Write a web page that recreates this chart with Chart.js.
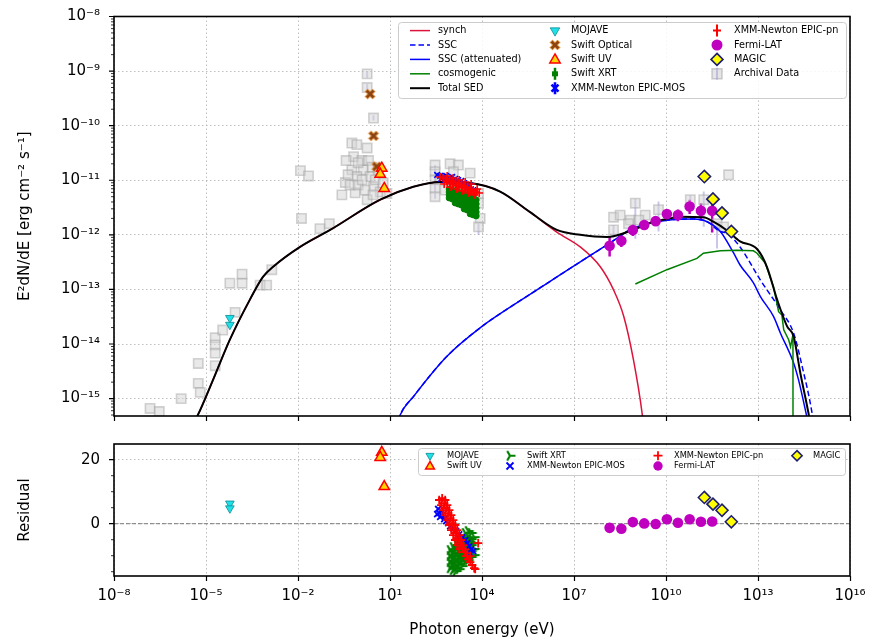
<!DOCTYPE html>
<html lang="en">
<head>
<meta charset="UTF-8">
<title>Broadband SED with residuals</title>
<script src="https://cdn.jsdelivr.net/npm/chart.js"></script>
<style>
  body { margin: 0; background: #fff; }
  #wrap { position: relative; width: 873px; height: 644px; }
  canvas { position: absolute; left: 0; }
</style>
</head>
<body>
<div id="wrap">
  <canvas id="sed" width="873" height="432" style="top:0"></canvas>
  <canvas id="res" width="873" height="212" style="top:432px"></canvas>
</div>
<script>
// ---------- model curves (photon energy in eV, E^2 dN/dE in erg cm^-2 s^-1) ----------
const synchE = [3.55e-6, 6.5e-6, 2.0e-5, 6.0e-5, 2.7e-4, 7.2e-4, 1.55e-3, 1.17e-2, 0.112, 4.8, 57.5, 436, 4070, 3.9e4, 3.7e5, 2.75e6, 1.6e7, 7.2e7, 1.95e8, 4.2e8, 8.7e8, 1.66e9, 2.0e9];
const synchF = [3.1e-16, 6.2e-16, 2.75e-15, 1.2e-14, 6.5e-14, 1.7e-13, 2.6e-13, 6.0e-13, 1.23e-12, 4.4e-12, 7.6e-12, 9.3e-12, 8.9e-12, 6.2e-12, 2.6e-12, 1.12e-12, 6.0e-13, 2.6e-13, 9.8e-14, 3.2e-14, 5.1e-15, 5.4e-16, 2.0e-16];

const sscE = [15.8, 21.4, 59, 708, 1.0e4, 1.07e5, 1.32e6, 1.6e7, 1.5e8, 8.5e8, 1.07e10, 7.8e10, 2.2e11, 5.9e11, 9.8e11, 2.6e12, 1.2e13, 5.4e13, 1.45e14, 2.75e14, 5.8e14, 6.6e14];
const sscF = [2.8e-16, 5.0e-16, 1.1e-15, 5.9e-15, 2.1e-14, 5.2e-14, 1.29e-13, 3.2e-13, 7.1e-13, 1.32e-12, 1.86e-12, 1.95e-12, 1.74e-12, 1.15e-12, 1.07e-12, 6.0e-13, 1.48e-13, 4.2e-14, 1.58e-14, 3.9e-15, 5.4e-16, 3.2e-16];

const sscAttE = [15.8, 21.4, 59, 708, 1.0e4, 1.07e5, 1.32e6, 1.6e7, 1.5e8, 8.5e8, 1.07e10, 7.8e10, 2.2e11, 5.9e11, 1.58e12, 2.6e12, 7.1e12, 1.2e13, 3.2e13, 5.4e13, 1.45e14, 2.1e14, 3.8e14, 4.5e14];
const sscAttF = [2.8e-16, 5.0e-16, 1.1e-15, 5.9e-15, 2.1e-14, 5.2e-14, 1.29e-13, 3.2e-13, 7.1e-13, 1.32e-12, 1.86e-12, 1.95e-12, 1.74e-12, 1.15e-12, 4.7e-13, 2.8e-13, 1.32e-13, 7.4e-14, 3.2e-14, 1.58e-14, 4.5e-15, 2.2e-15, 5.0e-16, 3.2e-16];

const cosmoE = [1.0e9, 1.07e10, 1.02e11, 1.66e11, 5.9e11, 2.1e12, 7.1e12, 9.3e12, 1.74e13, 3.2e13, 4.7e13, 6.0e13, 6.9e13, 1.0e14, 1.15e14, 1.38e14, 1.39e14];
const cosmoF = [1.26e-13, 2.3e-13, 3.7e-13, 4.6e-13, 5.1e-13, 5.2e-13, 5.1e-13, 4.6e-13, 3.0e-13, 1.12e-13, 3.9e-14, 3.4e-14, 1.82e-14, 1.2e-14, 8.9e-15, 1.48e-14, 1e-17];

const totalE = [3.55e-6, 6.5e-6, 2.0e-5, 6.0e-5, 2.7e-4, 7.2e-4, 1.55e-3, 1.17e-2, 0.112, 4.8, 57.5, 436, 4070, 3.9e4, 3.7e5, 2.75e6, 1.6e7, 1.17e8, 8.5e8, 2.4e9, 1.07e10, 2.95e10, 1.66e11, 3.5e11, 9.8e11, 2.6e12, 9.3e12, 1.95e13, 4.2e13, 8.9e13, 1.45e14, 2.4e14, 4.4e14, 5.2e14];
const totalF = [3.1e-16, 6.2e-16, 2.75e-15, 1.2e-14, 6.5e-14, 1.7e-13, 2.6e-13, 6.0e-13, 1.23e-12, 4.4e-12, 7.6e-12, 9.3e-12, 8.9e-12, 6.2e-12, 2.6e-12, 1.23e-12, 1.0e-12, 9.1e-13, 1.23e-12, 1.58e-12, 1.95e-12, 2.14e-12, 2.09e-12, 1.74e-12, 1.2e-12, 7.6e-13, 5.5e-13, 2.6e-13, 6.5e-14, 2.1e-14, 1.38e-14, 2.95e-15, 5.5e-16, 3.2e-16];

// ---------- measurements ----------
const mojaveE = [6.0e-5, 6.0e-5];
const mojaveF = [3.0e-14, 2.25e-14];
const mojaveRes = [6.3, 4.8];

const optE = [2.24, 2.9, 3.7];
const optF = [3.8e-10, 6.5e-11, 1.78e-11];

const uvE = [5.4, 4.8, 6.5];
const uvF = [1.66e-11, 1.29e-11, 7.1e-12];
const uvRes = [22.3, 20.7, 11.6];

const xrtE = [850, 850, 850, 850, 1065, 1065, 1065, 1065, 1334, 1334, 1334, 1334, 1334, 1672, 1672, 1672, 1672, 1672,
  2094, 2094, 2094, 2094, 2094, 2624, 2624, 2624, 2624, 2624, 2624, 3289, 3289, 3289, 3289, 3289, 3289,
  4113, 4113, 4113, 4113, 4113, 4113, 4113, 5152, 5152, 5152, 5152, 5152, 5152, 5152, 6457, 6457, 6457, 6457, 6457];
const xrtF = [6.9e-12, 6.1e-12, 5.4e-12, 4.74e-12, 6.6e-12, 5.85e-12, 5.15e-12, 4.55e-12, 6.4e-12, 5.6e-12, 4.95e-12, 4.36e-12, 3.84e-12,
  6.1e-12, 5.4e-12, 4.74e-12, 4.18e-12, 3.68e-12, 5.85e-12, 5.15e-12, 4.55e-12, 4.0e-12, 3.53e-12,
  5.6e-12, 4.95e-12, 4.36e-12, 3.84e-12, 3.38e-12, 2.98e-12, 5.4e-12, 4.74e-12, 4.18e-12, 3.68e-12, 3.24e-12, 2.86e-12,
  5.15e-12, 4.55e-12, 4.0e-12, 3.53e-12, 3.11e-12, 2.74e-12, 2.42e-12, 4.95e-12, 4.36e-12, 3.84e-12, 3.38e-12, 2.98e-12, 2.63e-12, 2.32e-12,
  4.36e-12, 3.68e-12, 3.11e-12, 2.63e-12, 2.22e-12];
const xrtResE = [917, 917, 917, 917, 1148, 1148, 1148, 1148, 1148, 1439, 1439, 1439, 1439, 1439, 1439,
  1803, 1803, 1803, 1803, 1803, 1803, 2259, 2259, 2259, 2259, 2259, 2259, 2831, 2831, 2831, 2831, 2831, 2831,
  3548, 3548, 3548, 3548, 3548, 3548, 4446, 4446, 4446, 4446, 4446, 5570, 5570, 5570, 5570,
  1036, 1036, 1036, 1296, 1296, 1296, 1296, 1620, 1620, 1620, 1620, 2030, 2030, 2030, 2030, 2540, 2540, 2540, 3180, 3180, 3180, 3980, 3980, 4980, 4980];
const xrtRes = [-8.25, -10.1, -12.0, -13.9, -7.3, -9.2, -11.1, -12.9, -14.5, -6.1, -7.9, -9.8, -11.7, -13.6, -14.8,
  -5.1, -7.0, -8.9, -10.75, -12.6, -14.2, -4.2, -6.1, -7.9, -9.8, -11.7, -13.25, -2.9, -4.8, -6.7, -8.6, -10.4, -12.0,
  -2.3, -4.2, -6.1, -7.9, -9.8, -11.4, -2.9, -4.8, -6.7, -8.6, -10.4, -4.2, -6.1, -7.9, -9.8,
  -9.2, -11.1, -13.0, -8.2, -10.1, -12.0, -13.9, -7.0, -8.9, -10.8, -12.7, -6.0, -7.9, -9.8, -11.7, -5.5, -8.3, -10.8, -5.5, -8.3, -10.9, -5.6, -8.4, -6.0, -8.0];

const mosE = [345, 433, 542, 679, 850, 1065, 1334, 1672, 2094, 2624, 3289, 4113, 5152, 466, 630, 916, 1439, 2259, 3540];
const mosF = [1.25e-11, 1.2e-11, 1.15e-11, 1.2e-11, 1.1e-11, 1.15e-11, 1.06e-11, 1.01e-11, 9.7e-12, 8.9e-12, 8.2e-12, 7.9e-12, 6.6e-12, 1.06e-11, 1.01e-11, 9.7e-12, 9.3e-12, 8.55e-12, 7.2e-12];
const mosResE = [372, 402, 433, 502, 584, 679, 789, 917, 1148, 1439, 1803, 2259, 2831, 3289, 3819, 4446, 5164, 4121, 467, 345];
const mosRes = [4.6, 3.3, 2.1, 2.7, 1.4, 0.8, 0.2, -0.75, -1.4, -2.3, -3.3, -4.3, -5.1, -6.1, -7.1, -8.0, -8.6, -9.25, 3.9, 3.0];

const pnE = [433, 542, 679, 850, 1065, 1334, 1672, 2094, 2624, 3289, 4113, 5152, 6457, 8091, 731, 916, 1148, 1439, 1803, 2259, 2825, 3540, 4436, 5559,
  584, 916, 1439, 2259, 3540, 5559, 731, 1148, 1803, 2825, 4436, 6966];
const pnF = [1.15e-11, 1.1e-11, 1.06e-11, 1.01e-11, 9.7e-12, 9.3e-12, 8.9e-12, 8.55e-12, 7.9e-12, 7.5e-12, 6.9e-12, 6.6e-12, 6.1e-12, 5.85e-12, 9.3e-12, 8.55e-12, 8.2e-12, 7.9e-12, 7.5e-12, 7.2e-12, 6.9e-12, 6.4e-12, 6.4e-12, 5.85e-12,
  8.55e-12, 7.5e-12, 6.9e-12, 6.4e-12, 5.85e-12, 5.4e-12, 1.2e-11, 1.1e-11, 1.01e-11, 9.3e-12, 8.55e-12, 6.9e-12];
const pnResE = [502, 584, 679, 789, 917, 1066, 1239, 1439, 1672, 1944, 2259, 2624, 3054, 3548, 4121, 4786, 5570,
  402, 467, 542, 630, 731, 851, 988, 1148, 1336, 1552, 1803,
  630, 731, 851, 988, 1148, 1336, 1552, 1803, 2094, 2437, 2831, 3289,
  7516, 5998, 4121];
const pnRes = [8.0, 6.4, 4.9, 3.3, 1.75, 0.2, -1.4, -2.9, -4.5, -6.1, -7.6, -8.9, -10.1, -11.1, -12.0, -12.9, -13.9,
  7.4, 5.8, 4.25, 2.7, 1.1, -0.4, -2.0, -3.6, -5.1, -6.7, -7.9,
  7.4, 5.8, 4.25, 2.7, 1.1, -0.4, -2.0, -3.6, -5.1, -6.7, -8.0, -9.25,
  -6.1, -14.2, -10.1];

const fermiE = [1.45e8, 3.5e8, 8.3e8, 1.95e9, 4.6e9, 1.07e10, 2.45e10, 5.9e10, 1.38e11, 3.2e11];
const fermiF = [6.3e-13, 7.8e-13, 1.23e-12, 1.51e-12, 1.78e-12, 2.4e-12, 2.3e-12, 3.3e-12, 2.75e-12, 2.75e-12];
const fermiLo = [4.0e-13, 6.0e-13, 9.5e-13, 1.23e-12, 1.45e-12, 1.86e-12, 1.78e-12, 2.4e-12, 1.86e-12, 1.1e-12];
const fermiHi = [9.1e-13, 1.05e-12, 1.58e-12, 1.86e-12, 2.2e-12, 2.95e-12, 2.9e-12, 4.4e-12, 3.8e-12, 4.8e-12];
const fermiRes = [-1.3, -1.6, 0.5, 0.1, -0.1, 1.4, 0.3, 1.4, 0.6, 0.7];

const magicE = [1.78e11, 3.4e11, 6.7e11, 1.35e12];
const magicF = [1.17e-11, 4.5e-12, 2.5e-12, 1.15e-12];
const magicRes = [8.2, 6.1, 4.2, 0.6];

const archE = [1.5e-7, 3.0e-7, 1.55e-6, 5.6e-6, 5.6e-6, 6.5e-6, 2.0e-5, 2.0e-5, 2.0e-5, 2.0e-5, 3.5e-5, 8.9e-5, 6.0e-5, 1.5e-4, 1.5e-4, 5.8e-4, 9.5e-4, 1.4e-3,
  1.2e-2, 2.2e-2, 1.3e-2, 5.2e-2, 0.105, 0.27, 0.35, 0.73, 1.8, 0.57, 0.83, 1.8, 0.65, 1.2, 0.57, 1.35, 2.0, 0.83, 2.24, 2.9, 4.8, 7.9, 1.8, 1.8, 2.9,
  0.43, 0.5, 0.91, 1.23, 1.55, 2.6, 3.3, 4.1, 6.0, 0.91, 0.37, 2.8,
  295, 295, 295, 295, 295, 910, 1700, 1170, 4100, 7700, 7700, 8700, 7700, 435, 630,
  1.95e8, 1.95e8, 6.9e8, 1.0e9, 2.1e9, 5.7e9, 6.2e10, 1.7e11, 1.1e12, 4.6e11, 7.6e11, 6.0e8, 1.3e9, 3.2e8];
const archF = [6.6e-16, 5.8e-16, 1.0e-15, 4.4e-15, 1.9e-15, 1.3e-15, 1.3e-14, 9.6e-15, 6.8e-15, 4.0e-15, 1.8e-14, 3.8e-14, 1.3e-13, 1.9e-13, 1.3e-13, 1.2e-13, 1.2e-13, 2.3e-13,
  1.5e-11, 1.2e-11, 2.0e-12, 1.3e-12, 1.6e-12, 5.4e-12, 9.1e-12, 5.9e-12, 4.4e-12, 4.8e-11, 4.5e-11, 3.9e-11, 2.7e-11, 2.3e-11, 1.55e-11, 1.55e-11, 2.3e-11, 1.17e-11, 1.17e-11, 7.6e-12, 6.1e-12, 5.7e-12, 8.9e-10, 5.0e-10, 1.38e-10,
  1.26e-11, 8.2e-12, 8.2e-12, 1.02e-11, 6.6e-12, 1.74e-11, 1.02e-11, 1.55e-11, 8.9e-12, 2.1e-11, 2.3e-11, 5.4e-12,
  1.9e-11, 1.44e-11, 1.02e-11, 7.1e-12, 5.0e-12, 2.0e-11, 1.9e-11, 1.44e-11, 1.35e-11, 5.7e-12, 3.8e-12, 2.0e-12, 1.4e-12, 1.1e-11, 6.6e-12,
  2.1e-12, 1.23e-12, 1.86e-12, 3.8e-12, 2.3e-12, 2.9e-12, 4.4e-12, 4.4e-12, 1.26e-11, 1.6e-12, 1.4e-12, 1.6e-12, 1.86e-12, 2.3e-12];
const archBarE = [1.8, 1.8, 2.9, 295, 7700, 1.95e8, 1.0e9, 5.7e9, 6.2e10, 1.7e11, 4.6e11];
const archBarLo = [7.5e-10, 4.3e-10, 1.25e-10, 4.6e-12, 1.0e-12, 8.7e-13, 8.5e-13, 1.15e-12, 2.9e-12, 1.4e-12, 5.6e-13];
const archBarHi = [1.0e-9, 5.8e-10, 1.55e-10, 1.9e-11, 1.6e-12, 1.5e-12, 4.6e-12, 4.1e-12, 5.3e-12, 6.2e-12, 1.75e-12];

// ---------- axes ----------
const xTicks = [1e-8, 1e-5, 1e-2, 1e1, 1e4, 1e7, 1e10, 1e13, 1e16];
const yMinTop = 4.8e-16, yMaxTop = 1e-8;
const yMinRes = -16.34, yMaxRes = 24.9;
const resTicks = [-15, -10, -5, 0, 5, 10, 15, 20];
const resLabelled = [0, 20];

const GRID = 'rgba(170,170,170,0.75)';
const SYN = '#dc143c';
const FONT = 'DejaVu Sans';
Chart.defaults.font.family = FONT;
Chart.defaults.color = '#000';

const SUP = { '-': '⁻', '0': '⁰', '1': '¹', '2': '²', '3': '³', '4': '⁴', '5': '⁵', '6': '⁶', '7': '⁷', '8': '⁸', '9': '⁹' };
function pow10Label(v) {
  const e = Math.round(Math.log10(v));
  return '10' + String(e).split('').map(c => SUP[c]).join('');
}
function isDecade(v) {
  const l = Math.log10(v);
  return Math.abs(l - Math.round(l)) < 1e-6;
}
const yTicksTop = [];
for (let e = -16; e <= -8; e++) {
  for (let m = 1; m < 10; m++) {
    const v = m * Math.pow(10, e);
    if (v >= yMinTop && v <= yMaxTop * 1.0001) yTicksTop.push(v);
  }
}

function pts(xs, ys) { return xs.map((x, i) => ({ x: x, y: ys[i] })); }

// ---------- marker shapes ----------
function tri(ctx, x, y, r, down) {
  const s = down ? -1 : 1;
  ctx.beginPath();
  ctx.moveTo(x, y - s * r);
  ctx.lineTo(x + r * 0.866, y + s * r * 0.5);
  ctx.lineTo(x - r * 0.866, y + s * r * 0.5);
  ctx.closePath();
}
function thickX(ctx, cx, cy, r) {
  const a = 0.32 * r;
  const p = [[a, a], [a, r], [-a, r], [-a, a], [-r, a], [-r, -a], [-a, -a], [-a, -r], [a, -r], [a, -a], [r, -a], [r, a]];
  const c = Math.SQRT1_2;
  ctx.beginPath();
  p.forEach(([px, py], i) => {
    const rx = cx + (px - py) * c, ry = cy + (px + py) * c;
    if (i) ctx.lineTo(rx, ry); else ctx.moveTo(rx, ry);
  });
  ctx.closePath();
}
function markerCanvas(size, draw) {
  const c = document.createElement('canvas');
  c.width = size; c.height = size;
  draw(c.getContext('2d'), size / 2);
  return c;
}
const optMarker = markerCanvas(14, (g, h) => {
  thickX(g, h, h, 5.2);
  g.fillStyle = '#8b4513'; g.fill();
  g.strokeStyle = '#e0801e'; g.lineWidth = 1; g.stroke();
});
const triRight = markerCanvas(14, (g, h) => {
  g.strokeStyle = 'green'; g.lineWidth = 2.2;
  g.beginPath();
  g.moveTo(h, h); g.lineTo(h + 5.5, h);
  g.moveTo(h, h); g.lineTo(h - 2.8, h - 4.8);
  g.moveTo(h, h); g.lineTo(h - 2.8, h + 4.8);
  g.stroke();
});

function icon(ctx, kind, x, y, big) {
  ctx.save();
  const k = big ? 1 : 0.85;
  switch (kind) {
    case 'mojave':
      tri(ctx, x, y, 5.5 * k, true);
      ctx.fillStyle = '#1fe0e6'; ctx.fill();
      ctx.strokeStyle = '#0b8a96'; ctx.lineWidth = 0.8; ctx.stroke();
      break;
    case 'uv':
      tri(ctx, x, y + 0.5, 6 * k, false);
      ctx.fillStyle = '#ffd400'; ctx.fill();
      ctx.strokeStyle = 'red'; ctx.lineWidth = 1.5; ctx.stroke();
      break;
    case 'opt':
      ctx.drawImage(optMarker, x - 7, y - 7);
      break;
    case 'xrtTop':
      ctx.strokeStyle = 'green'; ctx.lineWidth = 2.5;
      ctx.beginPath(); ctx.moveTo(x, y - 6); ctx.lineTo(x, y + 6); ctx.stroke();
      ctx.fillStyle = 'green'; ctx.fillRect(x - 3, y - 2.5, 6, 5);
      break;
    case 'mosTop':
      ctx.strokeStyle = 'blue'; ctx.lineWidth = 2.6;
      ctx.beginPath();
      ctx.moveTo(x - 3.5, y - 3.5); ctx.lineTo(x + 3.5, y + 3.5);
      ctx.moveTo(x - 3.5, y + 3.5); ctx.lineTo(x + 3.5, y - 3.5);
      ctx.moveTo(x, y - 6); ctx.lineTo(x, y + 6);
      ctx.stroke();
      break;
    case 'pnTop':
      ctx.strokeStyle = 'red'; ctx.lineWidth = 2;
      ctx.beginPath();
      ctx.moveTo(x, y - 6); ctx.lineTo(x, y + 6);
      ctx.moveTo(x - 4, y); ctx.lineTo(x + 4, y);
      ctx.stroke();
      break;
    case 'fermi':
      ctx.fillStyle = '#bf00bf';
      ctx.beginPath(); ctx.arc(x, y, 5.5 * k, 0, Math.PI * 2); ctx.fill();
      break;
    case 'magic': {
      const d = 6 * k;
      ctx.beginPath();
      ctx.moveTo(x, y - d); ctx.lineTo(x + d, y); ctx.lineTo(x, y + d); ctx.lineTo(x - d, y); ctx.closePath();
      ctx.fillStyle = '#ffff00'; ctx.fill();
      ctx.strokeStyle = '#1e1e6e'; ctx.lineWidth = 1.6; ctx.stroke();
      break;
    }
    case 'arch':
      ctx.fillStyle = 'rgba(211,211,211,0.6)'; ctx.fillRect(x - 5, y - 5, 10, 10);
      ctx.strokeStyle = 'rgba(160,160,160,0.5)'; ctx.lineWidth = 1.5; ctx.strokeRect(x - 5, y - 5, 10, 10);
      ctx.strokeStyle = 'rgba(170,160,220,0.6)'; ctx.lineWidth = 2;
      ctx.beginPath(); ctx.moveTo(x, y - 6); ctx.lineTo(x, y + 6); ctx.stroke();
      break;
    case 'xrt':
      ctx.drawImage(triRight, x - 7, y - 7);
      break;
    case 'mos':
      ctx.strokeStyle = 'blue'; ctx.lineWidth = 1.8;
      ctx.beginPath();
      ctx.moveTo(x - 3.5, y - 3.5); ctx.lineTo(x + 3.5, y + 3.5);
      ctx.moveTo(x - 3.5, y + 3.5); ctx.lineTo(x + 3.5, y - 3.5);
      ctx.stroke();
      break;
    case 'pn':
      ctx.strokeStyle = 'red'; ctx.lineWidth = 1.8;
      ctx.beginPath();
      ctx.moveTo(x, y - 4.5); ctx.lineTo(x, y + 4.5);
      ctx.moveTo(x - 4.5, y); ctx.lineTo(x + 4.5, y);
      ctx.stroke();
      break;
  }
  ctx.restore();
}

// ---------- plugins ----------
function frameTicks(yMajor, yMinor) {
  return {
    id: 'frameTicks',
    afterDraw(chart) {
      const { ctx, chartArea: a, scales: { x, y } } = chart;
      ctx.save();
      ctx.strokeStyle = '#000';
      ctx.lineWidth = 1.2;
      ctx.beginPath();
      xTicks.forEach(v => { const p = Math.round(x.getPixelForValue(v)) + 0.5; ctx.moveTo(p, a.bottom); ctx.lineTo(p, a.bottom + 5); });
      yMajor.forEach(v => { const p = y.getPixelForValue(v); ctx.moveTo(a.left, p); ctx.lineTo(a.left - 5, p); });
      ctx.stroke();
      ctx.lineWidth = 0.8;
      ctx.beginPath();
      yMinor.forEach(v => { const p = y.getPixelForValue(v); ctx.moveTo(a.left, p); ctx.lineTo(a.left - 3, p); });
      ctx.stroke();
      ctx.lineWidth = 1.6;
      ctx.strokeRect(a.left, a.top, a.right - a.left, a.bottom - a.top);
      ctx.restore();
    }
  };
}

function errorBars(sets) {
  return {
    id: 'errorBars',
    beforeDatasetsDraw(chart) {
      const { ctx, chartArea: a, scales: { x, y } } = chart;
      ctx.save();
      ctx.beginPath(); ctx.rect(a.left, a.top, a.right - a.left, a.bottom - a.top); ctx.clip();
      sets.forEach(s => {
        ctx.strokeStyle = s.color; ctx.lineWidth = s.width;
        s.e.forEach((e, i) => {
          const p = x.getPixelForValue(e);
          ctx.beginPath();
          ctx.moveTo(p, y.getPixelForValue(s.lo[i]));
          ctx.lineTo(p, y.getPixelForValue(s.hi[i]));
          ctx.stroke();
        });
      });
      ctx.restore();
    }
  };
}

function legendPlugin(box, items, font) {
  return {
    id: 'boxLegend',
    afterDraw(chart) {
      const ctx = chart.ctx;
      ctx.save();
      ctx.fillStyle = 'rgba(255,255,255,0.85)';
      ctx.strokeStyle = '#cccccc';
      ctx.lineWidth = 1;
      ctx.beginPath();
      ctx.roundRect(box[0] + 0.5, box[1] + 0.5, box[2], box[3], 3);
      ctx.fill(); ctx.stroke();
      ctx.font = font;
      ctx.textBaseline = 'middle';
      ctx.textAlign = 'left';
      items.forEach(it => {
        if (it.line) {
          ctx.save();
          ctx.strokeStyle = it.line[0]; ctx.lineWidth = it.line[1]; ctx.setLineDash(it.line[2]);
          ctx.beginPath(); ctx.moveTo(it.mx - 10, it.y); ctx.lineTo(it.mx + 10, it.y); ctx.stroke();
          ctx.restore();
        } else {
          icon(ctx, it.icon, it.mx, it.y, it.big);
        }
        ctx.fillStyle = '#000';
        ctx.fillText(it.text, it.tx, it.y);
      });
      ctx.restore();
    }
  };
}

// ---------- legend layout ----------
const topRows = [30.6, 45.0, 59.4, 73.8, 88.2];
const topLegendItems = [
  { text: 'synch', line: [SYN, 1.5, []] },
  { text: 'SSC', line: ['blue', 1.5, [5.5, 3]] },
  { text: 'SSC (attenuated)', line: ['blue', 1.5, []] },
  { text: 'cosmogenic', line: ['green', 1.5, []] },
  { text: 'Total SED', line: ['#000', 2, []] }
].map((d, i) => Object.assign(d, { mx: 420, tx: 438, y: topRows[i] }))
  .concat([
    ['MOJAVE', 'mojave'], ['Swift Optical', 'opt'], ['Swift UV', 'uv'], ['Swift XRT', 'xrtTop'], ['XMM-Newton EPIC-MOS', 'mosTop']
  ].map((d, i) => ({ text: d[0], icon: d[1], big: true, mx: 555, tx: 571, y: topRows[i] })))
  .concat([
    ['XMM-Newton EPIC-pn', 'pnTop'], ['Fermi-LAT', 'fermi'], ['MAGIC', 'magic'], ['Archival Data', 'arch']
  ].map((d, i) => ({ text: d[0], icon: d[1], big: true, mx: 717, tx: 734, y: topRows[i] })));

const botRows = [23.7, 34.0];
const botCols = [[430, 447], [510, 527], [658, 674], [797, 813]];
const botLegendItems = [
  ['MOJAVE', 'mojave'], ['Swift UV', 'uv'], ['Swift XRT', 'xrt'], ['XMM-Newton EPIC-MOS', 'mos'],
  ['XMM-Newton EPIC-pn', 'pn'], ['Fermi-LAT', 'fermi'], ['MAGIC', 'magic']
].map((d, i) => ({ text: d[0], icon: d[1], big: false, mx: botCols[Math.floor(i / 2)][0], tx: botCols[Math.floor(i / 2)][1], y: botRows[i % 2] }));

// ---------- top chart: SED ----------
function curve(label, xs, ys, color, width, dash, order, smooth) {
  return {
    label, data: pts(xs, ys), showLine: true, borderColor: color, borderWidth: width,
    borderDash: dash, pointRadius: 0, order,
    cubicInterpolationMode: smooth ? 'monotone' : 'default', tension: 0
  };
}

new Chart(document.getElementById('sed'), {
  type: 'scatter',
  data: {
    datasets: [
      { label: 'MAGIC', data: pts(magicE, magicF), pointStyle: 'rectRot', pointRadius: 6.2, pointBackgroundColor: '#ffff00', pointBorderColor: '#1e1e6e', pointBorderWidth: 1.6, order: 1 },
      { label: 'Fermi-LAT', data: pts(fermiE, fermiF), pointStyle: 'circle', pointRadius: 5.3, pointBackgroundColor: '#bf00bf', pointBorderColor: '#bf00bf', pointBorderWidth: 0, order: 2 },
      { label: 'Swift UV', data: pts(uvE, uvF), pointStyle: 'triangle', pointRadius: 6, pointBackgroundColor: '#ffd400', pointBorderColor: 'red', pointBorderWidth: 1.5, order: 3 },
      { label: 'Swift Optical', data: pts(optE, optF), pointStyle: optMarker, order: 4 },
      { label: 'MOJAVE', data: pts(mojaveE, mojaveF), pointStyle: 'triangle', pointRotation: 180, pointRadius: 5, pointBackgroundColor: '#1fe0e6', pointBorderColor: '#0b8a96', pointBorderWidth: 0.8, order: 5 },
      { label: 'XMM-Newton EPIC-pn', data: pts(pnE, pnF), pointStyle: 'cross', pointRadius: 4, pointBorderColor: 'red', pointBorderWidth: 1.6, order: 6 },
      { label: 'XMM-Newton EPIC-MOS', data: pts(mosE, mosF), pointStyle: 'crossRot', pointRadius: 4, pointBorderColor: 'blue', pointBorderWidth: 1.6, order: 7 },
      { label: 'Swift XRT', data: pts(xrtE, xrtF), pointStyle: 'circle', pointRadius: 3, pointBackgroundColor: 'green', pointBorderColor: 'green', pointBorderWidth: 1, order: 8 },
      curve('Total SED', totalE, totalF, '#000', 2, [], 20, true),
      curve('cosmogenic', cosmoE, cosmoF, 'green', 1.5, [], 21, false),
      curve('SSC (attenuated)', sscAttE, sscAttF, 'blue', 1.5, [], 22, true),
      curve('SSC', sscE, sscF, 'blue', 1.5, [5.5, 3], 23, true),
      curve('synch', synchE, synchF, SYN, 1.5, [], 24, true),
      { label: 'Archival Data', data: pts(archE, archF), pointStyle: 'rect', pointRadius: 6.6, pointBackgroundColor: 'rgba(211,211,211,0.5)', pointBorderColor: 'rgba(160,160,160,0.45)', pointBorderWidth: 1.6, order: 50 }
    ]
  },
  options: {
    responsive: false, animation: false, events: [], devicePixelRatio: 1,
    layout: { padding: { top: 16.5, right: 23, left: 0, bottom: 0 } },
    plugins: { legend: { display: false }, tooltip: { enabled: false } },
    scales: {
      x: {
        type: 'logarithmic', min: 1e-8, max: 1e16,
        afterBuildTicks: s => { s.ticks = xTicks.map(v => ({ value: v })); },
        afterFit: s => { s.height = 16; },
        ticks: { display: false },
        grid: { color: GRID, drawTicks: false, lineWidth: 1 },
        border: { display: false, dash: [1.5, 2.5] }
      },
      y: {
        type: 'logarithmic', min: yMinTop, max: yMaxTop,
        afterBuildTicks: s => { s.ticks = yTicksTop.map(v => ({ value: v })); },
        afterFit: s => { s.width = 114; },
        ticks: { autoSkip: false, padding: 0, font: { size: 15 }, color: '#000', callback: v => isDecade(v) ? pow10Label(v) : '' },
        grid: { drawTicks: true, tickLength: 14, tickColor: 'rgba(0,0,0,0)', lineWidth: 1, color: c => (c.tick && isDecade(c.tick.value)) ? GRID : 'rgba(0,0,0,0)' },
        border: { display: false, dash: [1.5, 2.5] },
        title: { display: true, text: 'E²dN/dE [erg cm⁻² s⁻¹]', font: { size: 15 }, color: '#000', padding: { top: 16, bottom: 0 } }
      }
    }
  },
  plugins: [
    errorBars([
      { e: archBarE, lo: archBarLo, hi: archBarHi, color: 'rgba(170,160,220,0.6)', width: 2 },
      { e: fermiE, lo: fermiLo, hi: fermiHi, color: '#bf00bf', width: 2.5 }
    ]),
    frameTicks(yTicksTop.filter(isDecade), yTicksTop.filter(v => !isDecade(v))),
    legendPlugin([398, 22, 448, 76], topLegendItems, '9.7px "DejaVu Sans"')
  ]
});

// ---------- bottom chart: residuals ----------
new Chart(document.getElementById('res'), {
  type: 'scatter',
  data: {
    datasets: [
      { label: 'MAGIC', data: pts(magicE, magicRes), pointStyle: 'rectRot', pointRadius: 6, pointBackgroundColor: '#ffff00', pointBorderColor: '#1e1e6e', pointBorderWidth: 1.6, order: 1 },
      { label: 'Fermi-LAT', data: pts(fermiE, fermiRes), pointStyle: 'circle', pointRadius: 5.3, pointBackgroundColor: '#bf00bf', pointBorderColor: '#bf00bf', pointBorderWidth: 0, order: 2 },
      { label: 'Swift UV', data: pts(uvE, uvRes), pointStyle: 'triangle', pointRadius: 6, pointBackgroundColor: '#ffd400', pointBorderColor: 'red', pointBorderWidth: 1.5, order: 3 },
      { label: 'MOJAVE', data: pts(mojaveE, mojaveRes), pointStyle: 'triangle', pointRotation: 180, pointRadius: 5, pointBackgroundColor: '#1fe0e6', pointBorderColor: '#0b8a96', pointBorderWidth: 0.8, order: 5 },
      { label: 'XMM-Newton EPIC-pn', data: pts(pnResE, pnRes), pointStyle: 'cross', pointRadius: 4.2, pointBorderColor: 'red', pointBorderWidth: 1.8, order: 6 },
      { label: 'XMM-Newton EPIC-MOS', data: pts(mosResE, mosRes), pointStyle: 'crossRot', pointRadius: 4.2, pointBorderColor: 'blue', pointBorderWidth: 1.8, order: 7 },
      { label: 'Swift XRT', data: pts(xrtResE, xrtRes), pointStyle: triRight, order: 8 },
      { label: 'zero', data: [{ x: 1e-8, y: 0 }, { x: 1e16, y: 0 }], showLine: true, borderColor: 'rgba(128,128,128,0.85)', borderWidth: 1.2, borderDash: [4, 2], pointRadius: 0, order: 40 }
    ]
  },
  options: {
    responsive: false, animation: false, events: [], devicePixelRatio: 1,
    layout: { padding: { top: 12, right: 23, left: 0, bottom: 0 } },
    plugins: { legend: { display: false }, tooltip: { enabled: false } },
    scales: {
      x: {
        type: 'logarithmic', min: 1e-8, max: 1e16,
        afterBuildTicks: s => { s.ticks = xTicks.map(v => ({ value: v })); },
        afterFit: s => { s.height = 68; },
        ticks: { autoSkip: false, maxRotation: 0, padding: 0, font: { size: 15 }, color: '#000', callback: v => pow10Label(v) },
        grid: { color: GRID, drawTicks: true, tickLength: 11, tickColor: 'rgba(0,0,0,0)', lineWidth: 1 },
        border: { display: false, dash: [1.5, 2.5] },
        title: { display: true, text: 'Photon energy (eV)', font: { size: 15 }, color: '#000', padding: { top: 0, bottom: 5 } }
      },
      y: {
        type: 'linear', min: yMinRes, max: yMaxRes,
        afterBuildTicks: s => { s.ticks = resTicks.map(v => ({ value: v })); },
        afterFit: s => { s.width = 114; },
        ticks: { autoSkip: false, padding: 0, font: { size: 15 }, color: '#000', callback: v => resLabelled.includes(v) ? String(v) : '' },
        grid: { drawTicks: true, tickLength: 14, tickColor: 'rgba(0,0,0,0)', lineWidth: 1, color: c => (c.tick && resLabelled.includes(c.tick.value)) ? GRID : 'rgba(0,0,0,0)' },
        border: { display: false, dash: [1.5, 2.5] },
        title: { display: true, text: 'Residual', font: { size: 15 }, color: '#000', padding: { top: 16, bottom: 0 } }
      }
    }
  },
  plugins: [
    frameTicks(resLabelled, resTicks.filter(v => !resLabelled.includes(v))),
    legendPlugin([418, 16, 427, 27], botLegendItems, '8.3px "DejaVu Sans"')
  ]
});
</script>
</body>
</html>
